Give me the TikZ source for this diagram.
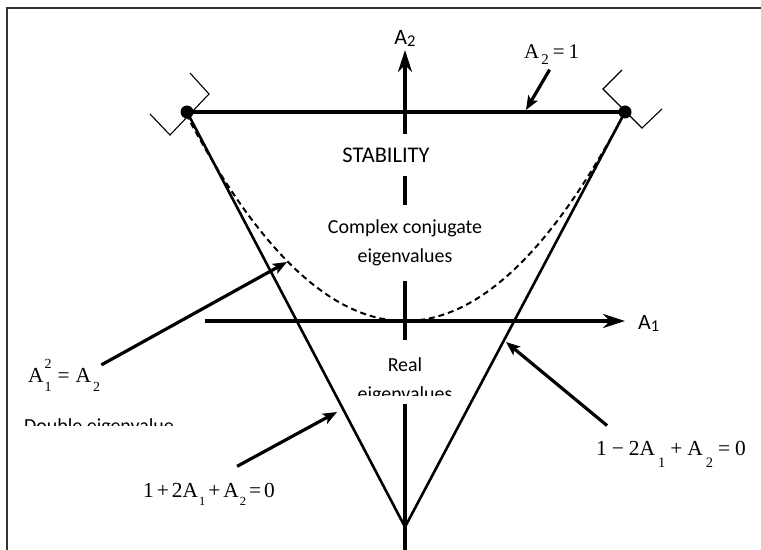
\documentclass[tikz,border=0pt]{standalone}
\usepackage{fontspec}
\setmainfont{Carlito}
\newfontfamily\eqfont{Liberation Serif}
\usetikzlibrary{arrows.meta}
\newcommand{\shiftidx}[3]{\raisebox{#1}{\fontsize{#2}{#2}\selectfont #3}}
\tikzset{
  frame line/.style={line width=1.4, black!80},
  axis/.style={line width=3.8, -{Stealth[length=22, width=14, inset=7]}},
  border line/.style={line width=2.6},
  stable line/.style={line width=5},
  double curve/.style={line width=2, dash pattern=on 6 off 4},
  corner mark/.style={line width=1.1},
  pointer/.style={line width=3.2, -{Stealth[length=14, width=11, inset=3]}},
  region text/.style={fill=white, align=center, inner sep=0, font=\fontsize{20}{29}\selectfont},
  eq text/.style={inner sep=1, anchor=base west, font=\eqfont\fontsize{21.5}{25}\selectfont},
  axis text/.style={inner sep=1, font=\fontsize{22}{24}\selectfont}
}
\begin{document}
\begin{tikzpicture}[x=1bp,y=-1bp]
  \useasboundingbox (0,0) rectangle (761,550);
  \draw[frame line] (7,550) -- (7,8) -- (761,8);
  % corners of the stability triangle
  \coordinate (top left) at (187,112);
  \coordinate (top right) at (625,112);
  \coordinate (bottom) at (405,527);
  % axes
  \coordinate (a2 start) at (405,550);
  \coordinate (a2 end) at (405,50);
  \coordinate (a1 start) at (205,321);
  \coordinate (a1 end) at (625,321);
  \draw[axis] (a2 start) -- (a2 end);
  \draw[axis] (a1 start) -- (a1 end);
  \node[axis text, above=2] (a2 label) at (a2 end) {A\shiftidx{-2bp}{16.5}{2}};
  \node[axis text, right=12, yshift=-2] (a1 label) at (a1 end) {A\shiftidx{-2bp}{16.5}{1}};
  % region labels, they cut the A2 axis
  \node[region text, minimum height=42, minimum width=100, font=\fontsize{22.5}{28}\selectfont] (stability) at (386,155) {STABILITY};
  \node[region text, minimum height=76] (complex) at (405,243) {Complex conjugate\\eigenvalues};
  \fill[white] (365,340) rectangle (445,404);
  \begin{scope}
    \clip (300,340) rectangle (510,395.5);
    \node[region text, fill=none] (real) at (405,381) {Real\\eigenvalues};
  \end{scope}
  % the triangle
  \draw[border line] (top left) -- (bottom) -- (top right);
  \draw[double curve] plot[domain=-0.995:1, samples=80, smooth] ({405+220*\x},{321-209*\x*\x});
  \draw[stable line] (top left) -- (top right);
  \fill (top left) circle (6.5);
  \fill (top right) circle (6.5);
  \draw[corner mark] (150,114) -- (170,135) -- (209,94) -- (190,73);
  \draw[corner mark] (662,109) -- (642,128) -- (603,89) -- (622,70);
  % equations
  \node[eq text, font=\eqfont\fontsize{21}{25}\selectfont] (eq top) at (523,59)
    {A\kern2bp\shiftidx{-6bp}{15}{2}\kern4bp=\kern4bp1};
  \node[eq text] (eq curve) at (27,382)
    {A\kern1bp\rlap{\shiftidx{14bp}{14}{2}}\shiftidx{-9bp}{14}{1}\kern6bp=\kern6bp A\kern2bp\shiftidx{-9bp}{14}{2}};
  \node[eq text] (eq left) at (142,497)
    {1\kern3bp+\kern3bp2A\kern1bp\shiftidx{-8bp}{12.5}{1}\kern3bp+\kern3bp A\kern1bp\shiftidx{-8bp}{12.5}{2}\kern3bp=\kern3bp0};
  \node[eq text] (eq right) at (595,455)
    {1\kern5bp−\kern5bp2A\kern3bp\shiftidx{-12bp}{14.5}{1}\kern5bp+\kern5bp A\kern3bp\shiftidx{-12bp}{14.5}{2}\kern5bp=\kern5bp0};
  \begin{scope}
    \clip (0,400) rectangle (250,425);
    \node[region text, fill=none, anchor=base west] (double) at (24,432) {Double eigenvalue};
  \end{scope}
  % pointers
  \coordinate (tip top) at (526,110);
  \coordinate (tip curve) at (287,262);
  \coordinate (tip left) at (337,412);
  \coordinate (tip right) at (506,342);
  \draw[pointer, shorten <=4] (eq top.south) -- (tip top);
  \draw[pointer] ([yshift=10]eq curve.east) -- (tip curve);
  \draw[pointer, shorten <=32] (eq left.north) -- (tip left);
  \draw[pointer] ([shift={(-64,-14)}]eq right.north) -- (tip right);
\end{tikzpicture}
\end{document}
